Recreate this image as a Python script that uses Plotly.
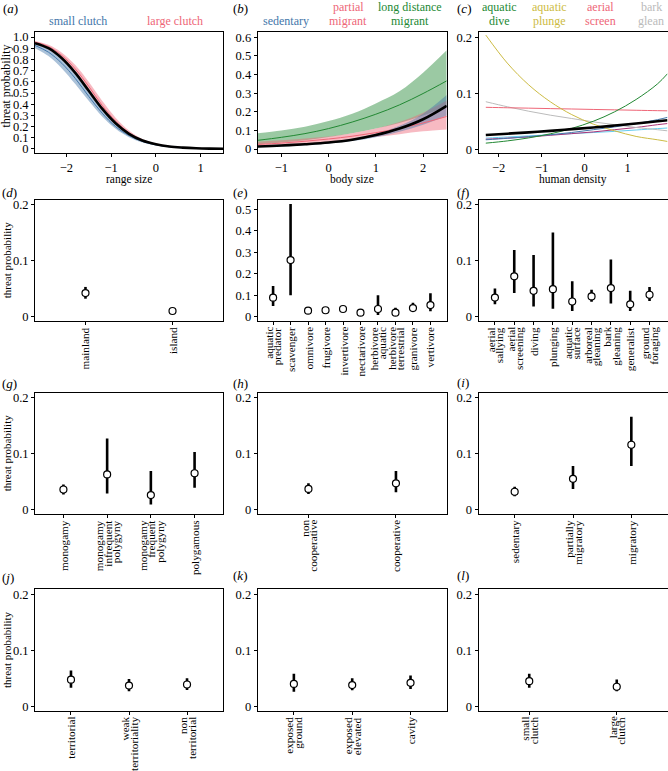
import plotly.graph_objects as go

W, H = 668, 771
FONT = "Liberation Serif"
BLUE, CYAN, GREEN, YELLOW, RED, PURPLE, GREY = "#4477AA", "#66CCEE", "#228833", "#CCBB44", "#EE6677", "#AA3377", "#BBBBBB"

# ---------------- data ----------------
# (a) range size
a_x = [-2.7, -2.4, -2.1, -1.8, -1.5, -1.2, -0.9, -0.6, -0.3, 0.0, 0.3, 0.6, 0.9, 1.2, 1.5]
a_mean = [0.945, 0.90, 0.81, 0.68, 0.52, 0.36, 0.23, 0.135, 0.075, 0.042, 0.022, 0.012, 0.006, 0.003, 0.0015]
a_small_mean = [0.925, 0.865, 0.765, 0.63, 0.47, 0.32, 0.20, 0.12, 0.067, 0.037, 0.020, 0.0105, 0.0055, 0.0027, 0.0015]
a_small_hi = [0.94, 0.89, 0.80, 0.67, 0.51, 0.36, 0.23, 0.14, 0.08, 0.045, 0.025, 0.013, 0.007, 0.0035, 0.002]
a_small_lo = [0.90, 0.83, 0.72, 0.58, 0.43, 0.29, 0.18, 0.105, 0.058, 0.031, 0.016, 0.008, 0.004, 0.002, 0.001]
a_large_mean = [0.955, 0.915, 0.835, 0.715, 0.56, 0.39, 0.25, 0.145, 0.079, 0.043, 0.023, 0.012, 0.006, 0.003, 0.0015]
a_large_hi = [0.965, 0.93, 0.86, 0.75, 0.60, 0.43, 0.28, 0.165, 0.09, 0.05, 0.027, 0.014, 0.007, 0.004, 0.002]
a_large_lo = [0.94, 0.89, 0.80, 0.67, 0.51, 0.35, 0.22, 0.125, 0.068, 0.036, 0.019, 0.010, 0.005, 0.0025, 0.001]

# (b) body size
b_x = [-1.5, -1.0, -0.5, 0.0, 0.5, 1.0, 1.5, 2.0, 2.5]
b_mean = [0.014, 0.019, 0.026, 0.035, 0.050, 0.075, 0.110, 0.160, 0.232]
b_sed_mean = [0.013, 0.018, 0.025, 0.034, 0.049, 0.073, 0.108, 0.158, 0.230]
b_sed_hi = [0.017, 0.022, 0.029, 0.038, 0.055, 0.082, 0.125, 0.19, 0.29]
b_sed_lo = [0.010, 0.014, 0.021, 0.030, 0.043, 0.064, 0.093, 0.13, 0.18]
b_part_mean = [0.025, 0.032, 0.042, 0.054, 0.069, 0.088, 0.111, 0.140, 0.175]
b_part_hi = [0.040, 0.047, 0.057, 0.068, 0.085, 0.110, 0.145, 0.195, 0.26]
b_part_lo = [0.013, 0.018, 0.026, 0.037, 0.050, 0.065, 0.080, 0.095, 0.105]
b_long_mean = [0.047, 0.063, 0.083, 0.110, 0.145, 0.187, 0.237, 0.298, 0.366]
b_long_hi = [0.085, 0.100, 0.120, 0.150, 0.190, 0.245, 0.310, 0.410, 0.530]
b_long_lo = [0.025, 0.035, 0.048, 0.065, 0.085, 0.110, 0.140, 0.180, 0.230]

# (c) human density
c_x = [-2.3, -1.8, -1.3, -0.8, -0.3, 0.2, 0.7, 1.2, 1.7, 1.93]
c_dive = [0.011, 0.015, 0.0204, 0.0276, 0.0373, 0.050, 0.067, 0.089, 0.117, 0.135]
c_plunge = [0.204, 0.154, 0.115, 0.085, 0.062, 0.045, 0.033, 0.023, 0.017, 0.014]
c_screen = [0.075, 0.0742, 0.0735, 0.0727, 0.072, 0.0712, 0.0705, 0.0697, 0.069, 0.0687]
c_bark = [0.085, 0.076, 0.068, 0.061, 0.055, 0.049, 0.044, 0.039, 0.035, 0.033]
c_blue = [0.017, 0.0196, 0.0227, 0.026, 0.030, 0.035, 0.040, 0.046, 0.053, 0.057]
c_cyan = [0.020, 0.022, 0.024, 0.026, 0.028, 0.030, 0.032, 0.0345, 0.037, 0.038]
c_purple = [0.018, 0.020, 0.022, 0.025, 0.028, 0.031, 0.035, 0.039, 0.044, 0.046]
c_mean = [0.0256, 0.0279, 0.0303, 0.033, 0.036, 0.039, 0.0424, 0.046, 0.050, 0.052]

# categorical panels: labels (lines joined by "|"), estimate, lower, upper
d_lab = ["mainland", "island"]
d_est = [0.042, 0.010]
d_lo = [0.032, 0.008]
d_hi = [0.053, 0.013]

e_lab = ["aquatic|predator", "scavenger", "omnivore", "frugivore", "invertivore", "nectarivore",
         "herbivore|aquatic", "herbivore|terrestrial", "granivore", "vertivore"]
e_est = [0.0885, 0.264, 0.028, 0.030, 0.036, 0.019, 0.036, 0.019, 0.040, 0.054]
e_lo = [0.050, 0.100, 0.020, 0.022, 0.029, 0.008, 0.008, 0.008, 0.026, 0.026]
e_hi = [0.143, 0.525, 0.038, 0.039, 0.044, 0.036, 0.100, 0.042, 0.065, 0.109]

f_lab = ["aerial|sallying", "aerial|screening", "diving", "plunging", "aquatic|surface",
         "arboreal|gleaning", "bark|gleaning", "generalist", "ground|foraging"]
f_est = [0.034, 0.072, 0.046, 0.049, 0.027, 0.036, 0.051, 0.022, 0.039]
f_lo = [0.022, 0.042, 0.018, 0.014, 0.010, 0.0265, 0.0235, 0.010, 0.028]
f_hi = [0.050, 0.119, 0.110, 0.150, 0.063, 0.048, 0.102, 0.046, 0.053]

g_lab = ["monogamy", "monogamy|infrequent|polygyny", "monogamy|frequent|polygyny", "polygamous"]
g_est = [0.036, 0.063, 0.026, 0.065]
g_lo = [0.027, 0.029, 0.009, 0.039]
g_hi = [0.045, 0.127, 0.069, 0.103]

h_lab = ["non|cooperative", "cooperative"]
h_est = [0.037, 0.047]
h_lo = [0.028, 0.031]
h_hi = [0.047, 0.069]

i_lab = ["sedentary", "partially|migratory", "migratory"]
i_est = [0.032, 0.055, 0.116]
i_lo = [0.024, 0.037, 0.078]
i_hi = [0.041, 0.078, 0.166]

j_lab = ["territorial", "weak|territoriality", "non|territorial"]
j_est = [0.0476, 0.037, 0.039]
j_lo = [0.033, 0.027, 0.029]
j_hi = [0.064, 0.049, 0.050]

k_lab = ["exposed|ground", "exposed|elevated", "cavity"]
k_est = [0.040, 0.038, 0.042]
k_lo = [0.026, 0.0285, 0.031]
k_hi = [0.058, 0.050, 0.055]

l_lab = ["small|clutch", "large|clutch"]
l_est = [0.045, 0.035]
l_lo = [0.033, 0.027]
l_hi = [0.058, 0.048]

# top-row group labels (lines joined by "|")
a_groups = ["small clutch", "large clutch"]
b_groups = ["sedentary", "partial|migrant", "long distance|migrant"]
c_groups = ["aquatic|dive", "aquatic|plunge", "aerial|screen", "bark|glean"]

# ---------------- layout geometry (pixels) ----------------
cols = [(35, 223), (257.7, 446.7), (478.5, 667.5)]
rows = [(32, 153), (199.5, 321), (392.7, 514), (589.3, 710.7)]

fig = go.Figure()
layout = dict(width=W, height=H, margin=dict(l=0, r=0, t=0, b=0), plot_bgcolor="white",
              paper_bgcolor="white", showlegend=False, font=dict(family=FONT, color="black"))
annotations = []


def px_x(x):
    return x / W


def px_y(y):
    return 1 - y / H


def ann(text, x, y, size=12, color="black", xanchor="center", yanchor="middle", angle=0,
        xref="paper", xshift=0):
    annotations.append(dict(text=text, x=(px_x(x) if xref == "paper" else x), y=px_y(y),
                            xref=xref, yref="paper", showarrow=False, xanchor=xanchor,
                            yanchor=yanchor, textangle=angle, xshift=xshift, borderpad=0,
                            font=dict(family=FONT, size=size, color=color)))


def axis(idx, col, row, xr, yr, yvals, ytext, xvals=None, xtext=None, show_xlabels=True):
    c0, c1 = cols[col]
    r0, r1 = rows[row]
    sfx = "" if idx == 1 else str(idx)
    common = dict(showline=True, linecolor="black", linewidth=1, mirror=True, ticks="outside",
                  ticklen=3, tickcolor="black", tickwidth=1, showgrid=False, zeroline=False,
                  automargin=False)
    xa = dict(common, domain=[px_x(c0), px_x(c1)], range=xr, anchor="y" + sfx,
              tickmode="array", tickvals=xvals, ticktext=xtext, showticklabels=show_xlabels,
              tickfont=dict(family=FONT, size=12.5, color="black"))
    ya = dict(common, domain=[px_y(r1), px_y(r0)], range=yr, anchor="x" + sfx,
              tickmode="array", tickvals=yvals, ticktext=ytext,
              tickfont=dict(family=FONT, size=12.5, color="black"))
    layout["xaxis" + sfx] = xa
    layout["yaxis" + sfx] = ya
    return "x" + sfx, "y" + sfx


def band(xa, ya, x, lo, hi, color, alpha=0.45):
    fig.add_trace(go.Scatter(x=x, y=lo, mode="lines", line=dict(width=0, shape="spline", color=color),
                             xaxis=xa, yaxis=ya, hoverinfo="skip"))
    r, g, b = int(color[1:3], 16), int(color[3:5], 16), int(color[5:7], 16)
    fig.add_trace(go.Scatter(x=x, y=hi, mode="lines", line=dict(width=0, shape="spline", color=color),
                             fill="tonexty", fillcolor=f"rgba({r},{g},{b},{alpha})",
                             xaxis=xa, yaxis=ya, hoverinfo="skip"))


def line(xa, ya, x, y, color, width=1.0):
    fig.add_trace(go.Scatter(x=x, y=y, mode="lines", line=dict(color=color, width=width, shape="spline"),
                             xaxis=xa, yaxis=ya))


LINE_GAP = 8.5  # px between lines of a rotated multi-line category label


def cat_panel(idx, col, row, labels, est, lo, hi, xr, yr=(-0.0078, 0.209),
              yvals=(0, 0.1, 0.2), ytext=("0", "0.1", "0.2")):
    xs = list(range(1, len(labels) + 1))
    xa, ya = axis(idx, col, row, list(xr), list(yr), list(yvals), list(ytext),
                  xvals=xs, xtext=[""] * len(xs), show_xlabels=False)
    fig.add_trace(go.Scatter(
        x=xs, y=est, mode="markers", xaxis=xa, yaxis=ya,
        marker=dict(symbol="circle", size=7, color="white", line=dict(color="black", width=1.2)),
        error_y=dict(type="data", symmetric=False,
                     array=[h - e for h, e in zip(hi, est)],
                     arrayminus=[e - l for e, l in zip(est, lo)],
                     thickness=2.6, width=0, color="black")))
    ybot = rows[row][1] + 5
    for xv, lab in zip(xs, labels):
        parts = lab.split("|")
        n = len(parts)
        for k, p in enumerate(parts):
            ann(p, xv, ybot, size=11.2, xanchor="center", yanchor="top", angle=-90,
                xref=xa, xshift=(k - (n - 1) / 2) * LINE_GAP)


# (a)
xa, ya = axis(1, 0, 0, [-2.7, 1.5], [-0.036, 1.045],
              [i / 10 for i in range(11)], ["0"] + [f"{i/10:.1f}" for i in range(1, 11)],
              xvals=[-2, -1, 0, 1], xtext=["\u22122", "\u22121", "0", "1"])
band(xa, ya, a_x, a_small_lo, a_small_hi, BLUE)
band(xa, ya, a_x, a_large_lo, a_large_hi, RED)
line(xa, ya, a_x, a_small_mean, BLUE, 1)
line(xa, ya, a_x, a_large_mean, RED, 1)
line(xa, ya, a_x, a_mean, "black", 2.6)

# (b)
xa, ya = axis(2, 1, 0, [-1.5, 2.5], [-0.021, 0.628],
              [i / 10 for i in range(7)], ["0"] + [f"{i/10:.1f}" for i in range(1, 7)],
              xvals=[-1, 0, 1, 2], xtext=["\u22121", "0", "1", "2"])
band(xa, ya, b_x, b_long_lo, b_long_hi, GREEN)
band(xa, ya, b_x, b_part_lo, b_part_hi, RED)
band(xa, ya, b_x, b_sed_lo, b_sed_hi, BLUE)
line(xa, ya, b_x, b_long_mean, GREEN, 1)
line(xa, ya, b_x, b_part_mean, RED, 1)
line(xa, ya, b_x, b_sed_mean, BLUE, 1)
line(xa, ya, b_x, b_mean, "black", 2.6)

# (c)
xa, ya = axis(3, 2, 0, [-2.47, 1.93], [-0.0066, 0.2095], [0, 0.1, 0.2], ["0", "0.1", "0.2"],
              xvals=[-2, -1, 0, 1], xtext=["\u22122", "\u22121", "0", "1"])
line(xa, ya, c_x, c_cyan, CYAN)
line(xa, ya, c_x, c_purple, PURPLE)
line(xa, ya, c_x, c_blue, BLUE)
line(xa, ya, c_x, c_bark, GREY)
line(xa, ya, c_x, c_screen, RED)
line(xa, ya, c_x, c_plunge, YELLOW)
line(xa, ya, c_x, c_dive, GREEN)
line(xa, ya, c_x, c_mean, "black", 2.6)

# categorical panels
cat_panel(4, 0, 1, d_lab, d_est, d_lo, d_hi, (0.42, 2.58))
cat_panel(5, 1, 1, e_lab, e_est, e_lo, e_hi, (0.12, 10.93), yr=(-0.02, 0.546),
          yvals=(0, 0.1, 0.2, 0.3, 0.4, 0.5), ytext=("0", "0.1", "0.2", "0.3", "0.4", "0.5"))
cat_panel(6, 2, 1, f_lab, f_est, f_lo, f_hi, (0.15, 9.93))
cat_panel(7, 0, 2, g_lab, g_est, g_lo, g_hi, (0.35, 4.65))
cat_panel(8, 1, 2, h_lab, h_est, h_lo, h_hi, (0.42, 2.58))
cat_panel(9, 2, 2, i_lab, i_est, i_lo, i_hi, (0.38, 3.62))
cat_panel(10, 0, 3, j_lab, j_est, j_lo, j_hi, (0.38, 3.62))
cat_panel(11, 1, 3, k_lab, k_est, k_lo, k_hi, (0.38, 3.62))
cat_panel(12, 2, 3, l_lab, l_est, l_lo, l_hi, (0.42, 2.58))

# panel letters
for letter, (x, y) in zip("abcdefghijkl",
                          [(2, 8.5), (232, 8.5), (456, 8.5), (1, 192), (232, 192), (456, 192.5),
                           (1, 383), (232, 383), (456, 382), (1, 577), (232, 575.5), (456, 575.5)]):
    ann(f"(<i>{letter}</i>)", x, y, size=13, xanchor="left")

# coloured group labels above top row (one annotation per text line, bottom-aligned)
for texts, xs_px, colors in [(a_groups, [78, 175], [BLUE, RED]),
                             (b_groups, [286, 348, 410], [BLUE, RED, GREEN]),
                             (c_groups, [499, 549, 600, 651], [GREEN, YELLOW, RED, GREY])]:
    for t, xp, colr in zip(texts, xs_px, colors):
        parts = t.split("|")
        for k, p in enumerate(parts):
            yc = 20.5 - (len(parts) - 1 - k) * 13.5
            ann(p, xp, yc, size=12, color=colr)

# x titles (top row)
ann("range size", 129, 179, size=11.5)
ann("body size", 352, 179, size=11.5)
ann("human density", 573, 179, size=11.5)

# y titles
ann("threat probability", 5.5, 86, size=12, angle=-90)
for r in rows[1:]:
    ann("threat probability", 7, (r[0] + r[1]) / 2, size=11, angle=-90)

layout["annotations"] = annotations
fig.update_layout(**layout)
fig.write_html("out.html", config={"displayModeBar": False},
               post_script="document.body.style.margin='0px';")
